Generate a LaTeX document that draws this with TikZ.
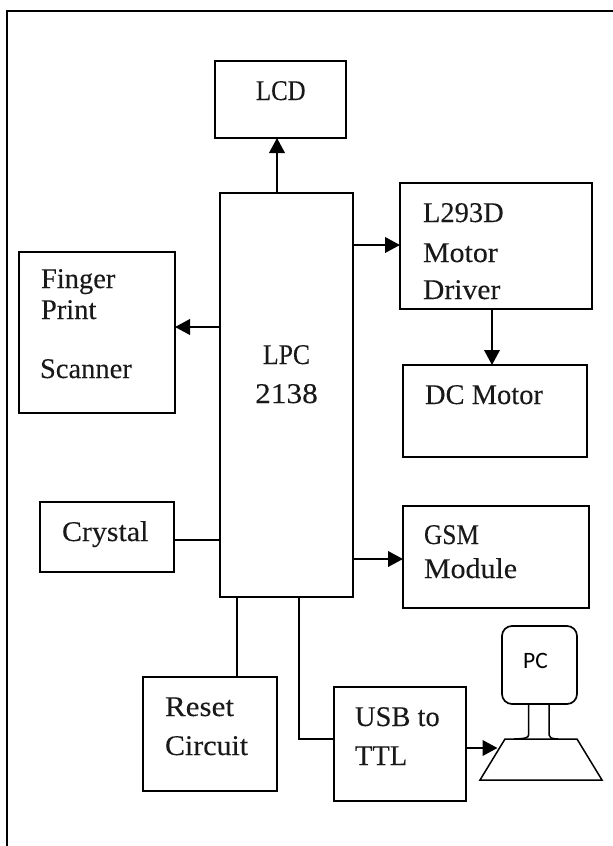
\documentclass[tikz,border=0pt]{standalone}
\usepackage{fontspec}
\setmainfont{Liberation Serif}[FakeBold=0.15]
\newfontfamily\pcfont{Carlito}
\usetikzlibrary{arrows.meta}
\newcommand{\hsq}[2]{\scalebox{#1}[1]{#2}}
\tikzset{
  x=1pt,y=-1pt,
  box/.style={draw=black,line width=1.7pt,inner sep=0pt,outer sep=0pt,fill=white},
  lbl/.style={anchor=base west,inner sep=0pt,outer sep=0pt,font=\fontsize{28.5}{30}\selectfont,text=black!90},
  arr/.style={line width=2.2pt,-{Triangle[length=15pt,width=15.5pt]}},
  wire/.style={line width=1.4pt},
  frameline/.style={line width=1.6pt,line cap=rect}
}
\begin{document}
\begin{tikzpicture}
\useasboundingbox (0,0) rectangle (613,846);
\coordinate (framebl) at (7,846);
\coordinate (frametl) at (7,11);
\coordinate (frametr) at (613,11);
\draw[frameline] (framebl) -- (frametl) -- (frametr);
% boxes
\node[box,minimum width=131pt,minimum height=77pt] (lcd) at (280.5,99.5) {};
\node[box,minimum width=133pt,minimum height=404pt] (lpc) at (286.5,395) {};
\node[box,minimum width=192pt,minimum height=126pt] (driver) at (496,246) {};
\node[box,minimum width=184pt,minimum height=92pt] (motor) at (495,411) {};
\node[box,minimum width=156pt,minimum height=161pt] (finger) at (97,332.5) {};
\node[box,minimum width=134pt,minimum height=70pt] (crystal) at (107,537) {};
\node[box,minimum width=186pt,minimum height=102pt] (gsm) at (496,557) {};
\node[box,minimum width=134pt,minimum height=114pt] (reset) at (210,734) {};
\node[box,minimum width=132pt,minimum height=114pt] (usb) at (400,744) {};
\node[box,rounded corners=10pt,minimum width=75pt,minimum height=78pt] (pc) at (539.5,665) {};
% labels
\node[lbl] (tlcd) at (256,100) {\hsq{.87}{LCD}};
\node[lbl,anchor=base] (tlpc) at (286.5,364) {\hsq{.9}{LPC}};
\node[lbl,anchor=base] (t2138) at (286.5,403) {\hsq{1.1}{2138}};
\node[lbl] (tl293) at (423,222) {L293D};
\node[lbl] (tmotor) at (423,262) {\hsq{1.05}{Motor}};
\node[lbl] (tdriver) at (423,299) {\hsq{1.04}{Driver}};
\node[lbl] (tfinger) at (41,288) {Finger};
\node[lbl] (tprint) at (41,319) {Print};
\node[lbl] (tscanner) at (40,378) {Scanner};
\node[lbl] (tcrystal) at (62,541) {\hsq{1.05}{Crystal}};
\node[lbl] (tdc) at (425,404) {DC Motor};
\node[lbl] (tgsm) at (424,544) {\hsq{.89}{GSM}};
\node[lbl] (tmodule) at (424,578) {\hsq{1.05}{Module}};
\node[lbl] (treset) at (165,716) {\hsq{1.09}{Reset}};
\node[lbl] (tcircuit) at (165,755) {\hsq{1.05}{Circuit}};
\node[lbl] (tusb) at (355,726) {USB to};
\node[lbl] (tttl) at (355,765) {TTL};
\node[anchor=base,inner sep=0pt,font=\pcfont\fontsize{23.5}{25}\selectfont] (tpc) at (535.5,668) {PC};
% PC stand and base
\coordinate (bt1) at (505,739);
\coordinate (bt2) at (577,739);
\coordinate (bb2) at (602,780);
\coordinate (bb1) at (480,780);
\coordinate (basein) at (497.5,748);
\coordinate (neckl) at (528.5,704);
\coordinate (neckr) at (549,704);
\coordinate (neckfl) at (514,739);
\coordinate (neckfr) at (558,739);
\draw[line width=1.5pt,line join=miter] (bt1) -- (bt2) -- (bb2) -- (bb1) -- cycle;
\draw[line width=1.5pt] (neckl) -- (528.5,735) .. controls (528.5,737.5) and (526,738.7) .. (neckfl);
\draw[line width=1.5pt] (neckr) -- (549,735) .. controls (549,737.5) and (551,738.7) .. (neckfr);
% connectors
\draw[arr] ([xshift=-9.5pt]lpc.north) -- ([xshift=-3.5pt]lcd.south);
\draw[arr] (lpc.east |- 0,245) -- (driver.west |- 0,245);
\draw[arr] (lpc.west |- 0,327) -- (finger.east |- 0,327);
\draw[arr] (driver.south -| 492,0) -- (motor.north -| 492,0);
\draw[arr] (lpc.east |- 0,559) -- (gsm.west |- 0,559);
\draw[arr] (usb.east |- 0,748) -- (basein);
\draw[wire] (crystal.east |- 0,540) -- (lpc.west |- 0,540);
\draw[wire] (lpc.south -| 237,0) -- (reset.north -| 237,0);
\draw[wire] (lpc.south -| 299,0) -- (299,739) -- (usb.west |- 0,739);
\end{tikzpicture}
\end{document}
